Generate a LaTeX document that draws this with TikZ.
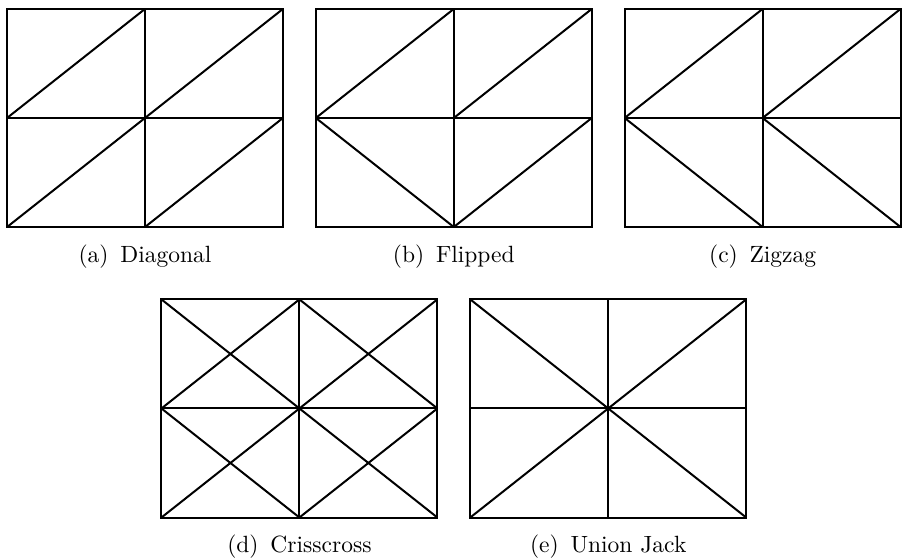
\documentclass[tikz,border=0pt]{standalone}
\usepackage{tikz}
\usetikzlibrary{positioning}

\begin{document}
\begin{tikzpicture}[
    mesh/.style={draw, line width=0.85pt, minimum width=117.4pt, minimum height=92.8pt, inner sep=0pt, outer sep=0pt},
    edge/.style={line width=0.85pt},
    subcap/.style={font=\normalsize, inner sep=3.33pt}
]

\useasboundingbox (0,0) rectangle (383.8pt,237.9pt);

% the five meshes
\node[mesh] (diagonal) at (61.7pt,187.7pt) {};
\node[mesh, right=14pt of diagonal] (flipped) {};
\node[mesh, right=14pt of flipped] (zigzag) {};
\node[mesh] (crisscross) at (127.4pt,64.1pt) {};
\node[mesh, right=14pt of crisscross] (unionjack) {};

% (a)
\draw[edge] (diagonal.north) -- (diagonal.south);
\draw[edge] (diagonal.west) -- (diagonal.east);
\draw[edge] (diagonal.west) -- (diagonal.north);
\draw[edge] (diagonal.center) -- (diagonal.north east);
\draw[edge] (diagonal.south west) -- (diagonal.center);
\draw[edge] (diagonal.south) -- (diagonal.east);

% (b)
\draw[edge] (flipped.north) -- (flipped.south);
\draw[edge] (flipped.west) -- (flipped.east);
\draw[edge] (flipped.west) -- (flipped.north);
\draw[edge] (flipped.center) -- (flipped.north east);
\draw[edge] (flipped.west) -- (flipped.south);
\draw[edge] (flipped.south) -- (flipped.east);

% (c)
\draw[edge] (zigzag.north) -- (zigzag.south);
\draw[edge] (zigzag.west) -- (zigzag.east);
\draw[edge] (zigzag.west) -- (zigzag.north);
\draw[edge] (zigzag.center) -- (zigzag.north east);
\draw[edge] (zigzag.west) -- (zigzag.south);
\draw[edge] (zigzag.center) -- (zigzag.south east);

% (d)
\draw[edge] (crisscross.north) -- (crisscross.south);
\draw[edge] (crisscross.west) -- (crisscross.east);
\draw[edge] (crisscross.west) -- (crisscross.north);
\draw[edge] (crisscross.north west) -- (crisscross.center);
\draw[edge] (crisscross.center) -- (crisscross.north east);
\draw[edge] (crisscross.north) -- (crisscross.east);
\draw[edge] (crisscross.south west) -- (crisscross.center);
\draw[edge] (crisscross.west) -- (crisscross.south);
\draw[edge] (crisscross.south) -- (crisscross.east);
\draw[edge] (crisscross.center) -- (crisscross.south east);

% (e)
\draw[edge] (unionjack.north) -- (unionjack.south);
\draw[edge] (unionjack.west) -- (unionjack.east);
\draw[edge] (unionjack.north west) -- (unionjack.south east);
\draw[edge] (unionjack.south west) -- (unionjack.north east);

% captions
\node[subcap, below=4pt of diagonal] (capdiagonal) {(a)\enspace Diagonal};
\node[subcap, below=4pt of flipped] (capflipped) {(b)\enspace Flipped};
\node[subcap, below=4pt of zigzag] (capzigzag) {(c)\enspace Zigzag};
\node[subcap, below=4pt of crisscross] (capcrisscross) {(d)\enspace Crisscross};
\node[subcap, below=4pt of unionjack] (capunionjack) {(e)\enspace Union Jack};

\end{tikzpicture}
\end{document}
